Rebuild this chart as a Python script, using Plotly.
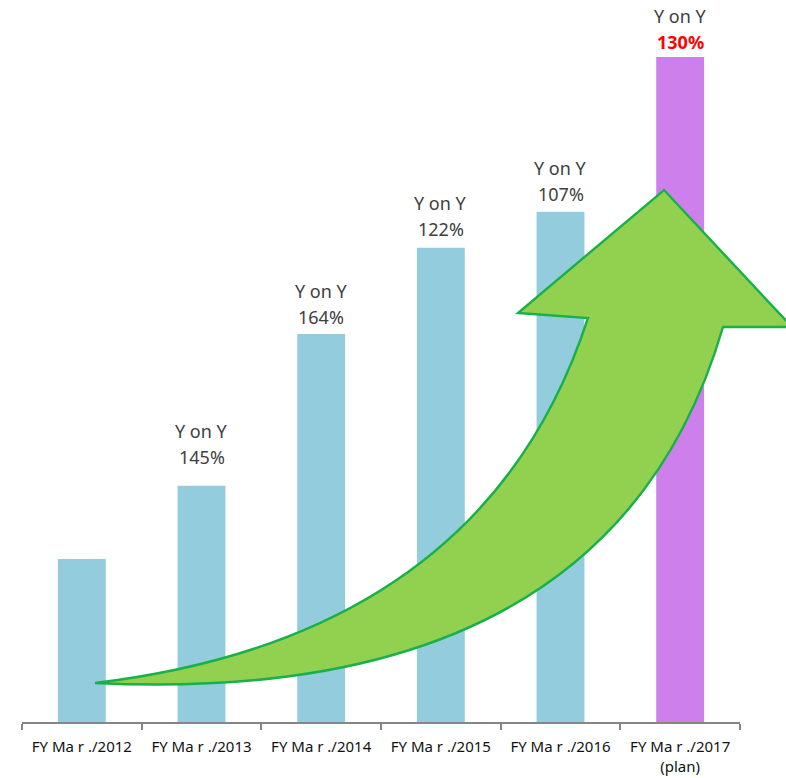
import plotly.graph_objects as go

# ---- data ----
categories = ["FY Mar 2012", "FY Mar 2013", "FY Mar 2014",
              "FY Mar 2015", "FY Mar 2016", "FY Mar 2017 (plan)"]
tick_text = ["FY Ma r ./2012", "FY Ma r ./2013", "FY Ma r ./2014",
             "FY Ma r ./2015", "FY Ma r ./2016", "FY Ma r ./2017<br>(plan)"]
sales_index = [100, 145, 238, 291, 313, 408]
yoy_labels = [None, "145%", "164%", "122%", "107%", "130%"]
bar_colors = ["#93CCDD", "#93CCDD", "#93CCDD", "#93CCDD", "#93CCDD", "#CD80EC"]

# ---- figure geometry (pixels) ----
W, H = 786, 778
ML, MR, MT, MB = 22, 46, 0, 56
PW, PH = W - ML - MR, H - MT - MB
Y_MAX = 443

fig = go.Figure(go.Bar(
    x=categories, y=sales_index,
    marker=dict(color=bar_colors, line=dict(width=0)),
    hoverinfo="skip",
))

# Year-on-year growth labels above each bar
label_gap = [0, 26, 14, 16, 15, 12]
for i, (cat, val, lab) in enumerate(zip(categories, sales_index, yoy_labels)):
    if lab is None:
        continue
    last = i == len(categories) - 1
    fig.add_annotation(
        x=cat, y=val, text=f"<b>{lab}</b>" if last else lab,
        showarrow=False, yanchor="bottom", yshift=label_gap[i] - 11,
        font=dict(family="Noto Sans", size=18,
                  color="#FF0000" if last else "#404040"),
    )
    fig.add_annotation(
        x=cat, y=val, text="Y on Y", showarrow=False, yanchor="bottom",
        yshift=label_gap[i] - 11 + 26,
        font=dict(family="Noto Sans", size=18, color="#404040"),
    )


# ---- curved growth arrow (decoration, drawn in paper space) ----
def pp(pt):
    x, y = pt
    return f"{(x - ML) / PW:.4f},{(MT + PH - y) / PH:.4f}"


tail = (95, 683)
outer_ctrl, outer_end = (612, 708), (723, 327)        # lower edge of the shaft
head = [(792, 327), (664, 190), (518, 313), (588, 318)]
inner_ctrl = (485, 636)                                # upper edge of the shaft

path = (f"M {pp(tail)} Q {pp(outer_ctrl)} {pp(outer_end)} "
        + " ".join(f"L {pp(p)}" for p in head)
        + f" Q {pp(inner_ctrl)} {pp(tail)} Z")

fig.add_shape(type="path", path=path, xref="paper", yref="paper",
              fillcolor="#92D050", line=dict(color="#17B04B", width=2.4),
              layer="above")

fig.update_layout(
    width=W, height=H,
    margin=dict(l=ML, r=MR, t=MT, b=MB),
    paper_bgcolor="white", plot_bgcolor="white",
    bargap=0.6, showlegend=False,
    font=dict(family="Noto Sans"),
    xaxis=dict(
        tickmode="array", tickvals=categories, ticktext=tick_text,
        tickson="boundaries", ticks="outside", ticklen=6, tickwidth=2,
        tickcolor="#868686", showline=True, linecolor="#868686", linewidth=2,
        ticklabelstandoff=10,
        tickfont=dict(family="Noto Sans", size=15, color="#111111"),
        showgrid=False, zeroline=False, fixedrange=True,
    ),
    yaxis=dict(range=[0, Y_MAX], visible=False, showgrid=False,
               zeroline=False, fixedrange=True),
)

fig.write_html("out.html")
